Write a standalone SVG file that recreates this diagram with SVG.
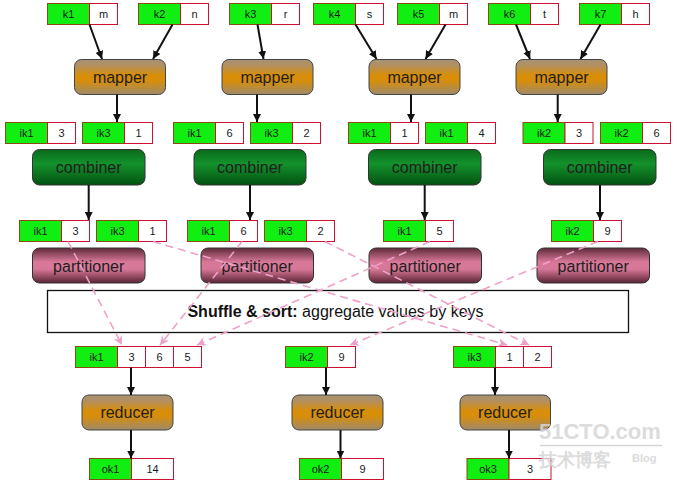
<svg xmlns="http://www.w3.org/2000/svg" width="677" height="483" viewBox="0 0 677 483">
<style>
.g{fill:#11ee11;stroke:#8a4a10;stroke-width:1}
.w{fill:#ffffff;stroke:#cc1133;stroke-width:1}
.t{font-family:"Liberation Sans",Arial,sans-serif;font-size:11px;fill:#1a1a1a;text-anchor:middle}
.bt{font-family:"Liberation Sans",Arial,sans-serif;font-size:16px;fill:#1e1e1e;text-anchor:middle}
.map{fill:url(#mapGrad);stroke:#444;stroke-width:1}
.comb{fill:url(#combGrad);stroke:#333;stroke-width:1}
.part{fill:url(#partGrad);stroke:#333;stroke-width:1}
.ar{stroke:#111;stroke-width:2;fill:none;marker-end:url(#ah)}
.da{stroke:#eea0c8;stroke-width:1.6;fill:none;stroke-dasharray:8 5;marker-end:url(#ph)}
.wm{font-family:"Liberation Sans",Arial,sans-serif;font-weight:bold;fill:#d6d6d6;opacity:0.85}
</style>
<defs>
<linearGradient id="mapGrad" x1="0" y1="0" x2="0" y2="1">
<stop offset="0" stop-color="#a89272"/>
<stop offset="0.15" stop-color="#b09066"/>
<stop offset="0.45" stop-color="#d88e08"/>
<stop offset="0.6" stop-color="#d88e08"/>
<stop offset="1" stop-color="#9e8a6c"/>
</linearGradient>
<linearGradient id="combGrad" x1="0" y1="0" x2="0" y2="1">
<stop offset="0" stop-color="#0a6a1a"/>
<stop offset="0.4" stop-color="#13922c"/>
<stop offset="1" stop-color="#045212"/>
</linearGradient>
<linearGradient id="partGrad" x1="0" y1="0" x2="0" y2="1">
<stop offset="0" stop-color="#5e2a3a"/>
<stop offset="0.4" stop-color="#d87898"/>
<stop offset="0.6" stop-color="#d87898"/>
<stop offset="1" stop-color="#5a2434"/>
</linearGradient>
<marker id="ah" viewBox="0 0 10 10" refX="10" refY="5" markerWidth="8" markerHeight="8" markerUnits="userSpaceOnUse" orient="auto">
<path d="M0,0 L10,5 L0,10 z" fill="#111"/>
</marker>
<marker id="ph" viewBox="0 0 10 10" refX="10" refY="5" markerWidth="9" markerHeight="9" markerUnits="userSpaceOnUse" orient="auto">
<path d="M0,0 L10,5 L0,10 L3,5 z" fill="#eea0c8"/>
</marker>
</defs>
<rect width="677" height="483" fill="#ffffff"/>

<!-- input pairs -->
<g id="in-k1"><rect class="g" x="47.5" y="3.5" width="42" height="21"/><rect class="w" x="89.5" y="3.5" width="28" height="21"/><text class="t" x="68.5" y="18">k1</text><text class="t" x="103.5" y="18">m</text></g>
<g id="in-k2"><rect class="g" x="138.5" y="3.5" width="42" height="21"/><rect class="w" x="180.5" y="3.5" width="28" height="21"/><text class="t" x="159.5" y="18">k2</text><text class="t" x="194.5" y="18">n</text></g>
<g id="in-k3"><rect class="g" x="229.5" y="3.5" width="42" height="21"/><rect class="w" x="271.5" y="3.5" width="28" height="21"/><text class="t" x="250.5" y="18">k3</text><text class="t" x="285.5" y="18">r</text></g>
<g id="in-k4"><rect class="g" x="313.5" y="3.5" width="42" height="21"/><rect class="w" x="355.5" y="3.5" width="28" height="21"/><text class="t" x="334.5" y="18">k4</text><text class="t" x="369.5" y="18">s</text></g>
<g id="in-k5"><rect class="g" x="397.5" y="3.5" width="42" height="21"/><rect class="w" x="439.5" y="3.5" width="28" height="21"/><text class="t" x="418.5" y="18">k5</text><text class="t" x="453.5" y="18">m</text></g>
<g id="in-k6"><rect class="g" x="488.5" y="3.5" width="42" height="21"/><rect class="w" x="530.5" y="3.5" width="28" height="21"/><text class="t" x="509.5" y="18">k6</text><text class="t" x="544.5" y="18">t</text></g>
<g id="in-k7"><rect class="g" x="579.5" y="3.5" width="42" height="21"/><rect class="w" x="621.5" y="3.5" width="28" height="21"/><text class="t" x="600.5" y="18">k7</text><text class="t" x="635.5" y="18">h</text></g>

<!-- mappers -->
<g id="mapper1"><rect class="map" x="74.5" y="59.5" width="91" height="35" rx="7"/><text class="bt" x="120" y="82.5">mapper</text></g>
<g id="mapper2"><rect class="map" x="222" y="59.5" width="91" height="35" rx="7"/><text class="bt" x="267.5" y="82.5">mapper</text></g>
<g id="mapper3"><rect class="map" x="369" y="59.5" width="91" height="35" rx="7"/><text class="bt" x="414.5" y="82.5">mapper</text></g>
<g id="mapper4"><rect class="map" x="516" y="59.5" width="91" height="35" rx="7"/><text class="bt" x="561.5" y="82.5">mapper</text></g>

<!-- mapper outputs -->
<g id="m1-ik1"><rect class="g" x="5.5" y="122.5" width="42" height="21"/><rect class="w" x="47.5" y="122.5" width="28" height="21"/><text class="t" x="26.5" y="137">ik1</text><text class="t" x="61.5" y="137">3</text></g>
<g id="m1-ik3"><rect class="g" x="82.5" y="122.5" width="42" height="21"/><rect class="w" x="124.5" y="122.5" width="28" height="21"/><text class="t" x="103.5" y="137">ik3</text><text class="t" x="138.5" y="137">1</text></g>
<g id="m2-ik1"><rect class="g" x="173.5" y="122.5" width="42" height="21"/><rect class="w" x="215.5" y="122.5" width="28" height="21"/><text class="t" x="194.5" y="137">ik1</text><text class="t" x="229.5" y="137">6</text></g>
<g id="m2-ik3"><rect class="g" x="250.5" y="122.5" width="42" height="21"/><rect class="w" x="292.5" y="122.5" width="28" height="21"/><text class="t" x="271.5" y="137">ik3</text><text class="t" x="306.5" y="137">2</text></g>
<g id="m3-ik1a"><rect class="g" x="348.5" y="122.5" width="42" height="21"/><rect class="w" x="390.5" y="122.5" width="28" height="21"/><text class="t" x="369.5" y="137">ik1</text><text class="t" x="404.5" y="137">1</text></g>
<g id="m3-ik1b"><rect class="g" x="425.5" y="122.5" width="42" height="21"/><rect class="w" x="467.5" y="122.5" width="28" height="21"/><text class="t" x="446.5" y="137">ik1</text><text class="t" x="481.5" y="137">4</text></g>
<g id="m4-ik2a"><rect class="g" x="523" y="122.5" width="42" height="21"/><rect class="w" x="565" y="122.5" width="28" height="21"/><text class="t" x="544" y="137">ik2</text><text class="t" x="579" y="137">3</text></g>
<g id="m4-ik2b"><rect class="g" x="600.5" y="122.5" width="42" height="21"/><rect class="w" x="642.5" y="122.5" width="28" height="21"/><text class="t" x="621.5" y="137">ik2</text><text class="t" x="656.5" y="137">6</text></g>

<!-- combiners -->
<g id="combiner1"><rect class="comb" x="32.5" y="149.5" width="112.5" height="35.5" rx="7"/><text class="bt" x="88.7" y="173">combiner</text></g>
<g id="combiner2"><rect class="comb" x="194" y="149.5" width="112" height="35.5" rx="7"/><text class="bt" x="250" y="173">combiner</text></g>
<g id="combiner3"><rect class="comb" x="368.5" y="149.5" width="112.5" height="35.5" rx="7"/><text class="bt" x="424.7" y="173">combiner</text></g>
<g id="combiner4"><rect class="comb" x="543.5" y="149.5" width="112.5" height="35.5" rx="7"/><text class="bt" x="599.7" y="173">combiner</text></g>

<!-- combiner outputs -->
<g id="c1-ik1"><rect class="g" x="19.5" y="220.5" width="42" height="21"/><rect class="w" x="61.5" y="220.5" width="28" height="21"/><text class="t" x="40.5" y="235">ik1</text><text class="t" x="75.5" y="235">3</text></g>
<g id="c1-ik3"><rect class="g" x="96.5" y="220.5" width="42" height="21"/><rect class="w" x="138.5" y="220.5" width="28" height="21"/><text class="t" x="117.5" y="235">ik3</text><text class="t" x="152.5" y="235">1</text></g>
<g id="c2-ik1"><rect class="g" x="187.5" y="220.5" width="42" height="21"/><rect class="w" x="229.5" y="220.5" width="28" height="21"/><text class="t" x="208.5" y="235">ik1</text><text class="t" x="243.5" y="235">6</text></g>
<g id="c2-ik3"><rect class="g" x="264.5" y="220.5" width="42" height="21"/><rect class="w" x="306.5" y="220.5" width="28" height="21"/><text class="t" x="285.5" y="235">ik3</text><text class="t" x="320.5" y="235">2</text></g>
<g id="c3-ik1"><rect class="g" x="383.5" y="220.5" width="42" height="21"/><rect class="w" x="425.5" y="220.5" width="28" height="21"/><text class="t" x="404.5" y="235">ik1</text><text class="t" x="439.5" y="235">5</text></g>
<g id="c4-ik2"><rect class="g" x="551.5" y="220.5" width="42" height="21"/><rect class="w" x="593.5" y="220.5" width="28" height="21"/><text class="t" x="572.5" y="235">ik2</text><text class="t" x="607.5" y="235">9</text></g>

<!-- partitioners -->
<g id="partitioner1"><rect class="part" x="32.5" y="248" width="112.5" height="35" rx="7"/><text class="bt" x="88.7" y="271.5">partitioner</text></g>
<g id="partitioner2"><rect class="part" x="201" y="248" width="112.5" height="35" rx="7"/><text class="bt" x="257.2" y="271.5">partitioner</text></g>
<g id="partitioner3"><rect class="part" x="369" y="248" width="112.5" height="35" rx="7"/><text class="bt" x="425.2" y="271.5">partitioner</text></g>
<g id="partitioner4"><rect class="part" x="537" y="248" width="112.5" height="35" rx="7"/><text class="bt" x="593.2" y="271.5">partitioner</text></g>

<!-- shuffle & sort -->
<g id="shuffle"><rect x="47.5" y="290.5" width="581" height="42" fill="#ffffff" stroke="#111" stroke-width="1.3"/><text x="335.5" y="317" font-family="'Liberation Sans',Arial,sans-serif" font-size="16" fill="#111" text-anchor="middle"><tspan font-weight="bold">Shuffle &amp; sort:</tspan> aggregate values by keys</text></g>

<!-- reducer inputs -->
<g id="r1-in"><rect class="g" x="75.5" y="346.5" width="42" height="21"/><rect class="w" x="117.5" y="346.5" width="28" height="21"/><rect class="w" x="145.5" y="346.5" width="28" height="21"/><rect class="w" x="173.5" y="346.5" width="28" height="21"/><text class="t" x="96.5" y="361">ik1</text><text class="t" x="131.5" y="361">3</text><text class="t" x="159.5" y="361">6</text><text class="t" x="187.5" y="361">5</text></g>
<g id="r2-in"><rect class="g" x="285.5" y="346.5" width="42" height="21"/><rect class="w" x="327.5" y="346.5" width="28" height="21"/><text class="t" x="306.5" y="361">ik2</text><text class="t" x="341.5" y="361">9</text></g>
<g id="r3-in"><rect class="g" x="453.5" y="346.5" width="42" height="21"/><rect class="w" x="495.5" y="346.5" width="28" height="21"/><rect class="w" x="523.5" y="346.5" width="28" height="21"/><text class="t" x="474.5" y="361">ik3</text><text class="t" x="509.5" y="361">1</text><text class="t" x="537.5" y="361">2</text></g>

<!-- reducers -->
<g id="reducer1"><rect class="map" x="82" y="395" width="91" height="35" rx="7"/><text class="bt" x="127.5" y="418">reducer</text></g>
<g id="reducer2"><rect class="map" x="292" y="395" width="91" height="35" rx="7"/><text class="bt" x="337.5" y="418">reducer</text></g>
<g id="reducer3"><rect class="map" x="460" y="395" width="90.5" height="35" rx="7"/><text class="bt" x="505.2" y="418">reducer</text></g>

<!-- outputs -->
<g id="out-ok1"><rect class="g" x="89.5" y="458.5" width="42" height="21"/><rect class="w" x="131.5" y="458.5" width="42" height="21"/><text class="t" x="110.5" y="473">ok1</text><text class="t" x="152.5" y="473">14</text></g>
<g id="out-ok2"><rect class="g" x="299.5" y="458.5" width="42" height="21"/><rect class="w" x="341.5" y="458.5" width="42" height="21"/><text class="t" x="320.5" y="473">ok2</text><text class="t" x="362.5" y="473">9</text></g>
<g id="out-ok3"><rect class="g" x="467" y="458.5" width="42" height="21"/><rect class="w" x="509" y="458.5" width="42" height="21"/><text class="t" x="488" y="473">ok3</text><text class="t" x="530" y="473">3</text></g>

<!-- connectors -->
<g id="connectors">
<line class="ar" x1="89.5" y1="24.5" x2="102" y2="59"/>
<line class="ar" x1="172.5" y1="24.5" x2="153" y2="59"/>
<line class="ar" x1="257.5" y1="24.5" x2="263.5" y2="59"/>
<line class="ar" x1="355.5" y1="24.5" x2="376.5" y2="59"/>
<line class="ar" x1="445.5" y1="24.5" x2="425.5" y2="59"/>
<line class="ar" x1="516" y1="24.5" x2="530" y2="59"/>
<line class="ar" x1="600.5" y1="24.5" x2="580.5" y2="59"/>
<line class="ar" x1="117" y1="94.5" x2="117" y2="122"/>
<line class="ar" x1="257" y1="94.5" x2="257" y2="122"/>
<line class="ar" x1="411" y1="94.5" x2="411" y2="122"/>
<line class="ar" x1="557.7" y1="94.5" x2="557.7" y2="122"/>
<line class="ar" x1="88.7" y1="185" x2="88.7" y2="220"/>
<line class="ar" x1="250" y1="185" x2="250" y2="220"/>
<line class="ar" x1="424.7" y1="185" x2="424.7" y2="220"/>
<line class="ar" x1="600" y1="185" x2="600" y2="220"/>
<line class="ar" x1="131" y1="367.5" x2="131" y2="395"/>
<line class="ar" x1="326" y1="367.5" x2="326" y2="395"/>
<line class="ar" x1="495" y1="367.5" x2="495" y2="395"/>
<line class="ar" x1="131" y1="430" x2="131" y2="458.5"/>
<line class="ar" x1="340.5" y1="430" x2="340.5" y2="458.5"/>
<line class="ar" x1="509" y1="430" x2="509" y2="458.5"/>
<line class="da" x1="68" y1="241.5" x2="122" y2="345"/>
<line class="da" x1="242" y1="241.5" x2="160" y2="345"/>
<line class="da" x1="430" y1="241.5" x2="197" y2="345"/>
<line class="da" x1="598" y1="241.5" x2="350" y2="345"/>
<line class="da" x1="153" y1="241.5" x2="507" y2="345"/>
<line class="da" x1="325" y1="241.5" x2="529" y2="345"/>
</g>

<!-- watermark -->
<text class="wm" x="539" y="439" font-size="22">51CTO.com</text>
<line x1="540" y1="445.5" x2="662" y2="445.5" stroke="#d6d6d6" stroke-width="1.5"/>
<text class="wm" x="539" y="466" font-size="18" font-family="'Noto Sans CJK SC',sans-serif">技术博客</text>
<text class="wm" x="632" y="462" font-size="11">Blog</text>
</svg>
